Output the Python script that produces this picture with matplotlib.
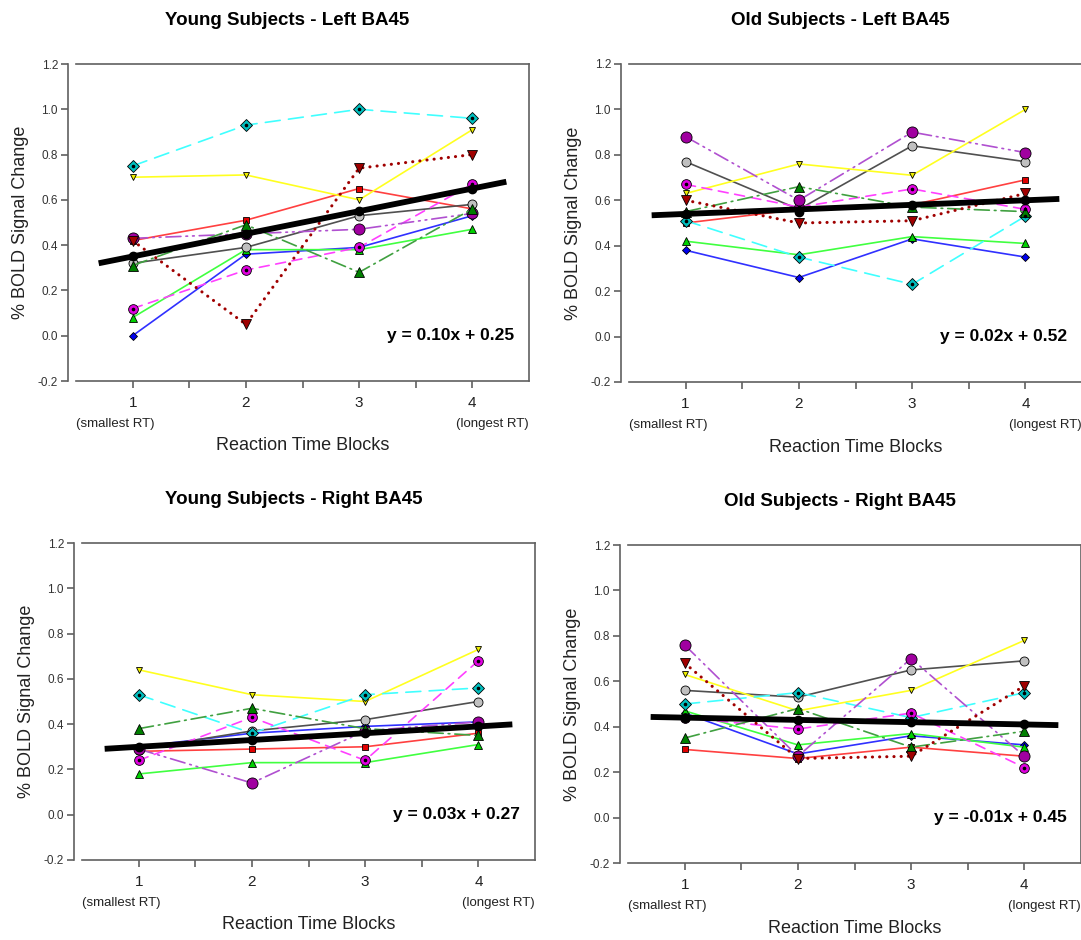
import matplotlib.pyplot as plt
import numpy as np

plt.rcParams['font.family'] = ['Liberation Sans', 'DejaVu Sans']

blocks = [1, 2, 3, 4]

# subject order: blue, lime, red, gray, yellow, cyan, magenta, purple, dark green, dark red
young_left = [
    [0.00, 0.36, 0.39, 0.53],
    [0.08, 0.38, 0.38, 0.47],
    [0.42, 0.51, 0.65, 0.56],
    [0.32, 0.39, 0.53, 0.58],
    [0.70, 0.71, 0.60, 0.91],
    [0.75, 0.93, 1.00, 0.96],
    [0.12, 0.29, 0.39, 0.67],
    [0.43, 0.45, 0.47, 0.54],
    [0.31, 0.49, 0.28, 0.56],
    [0.42, 0.05, 0.74, 0.80],
]
young_left_mean = [0.35, 0.45, 0.55, 0.65]

old_left = [
    [0.38, 0.26, 0.43, 0.35],
    [0.42, 0.36, 0.44, 0.41],
    [0.50, 0.56, 0.58, 0.69],
    [0.77, 0.56, 0.84, 0.77],
    [0.63, 0.76, 0.71, 1.00],
    [0.51, 0.35, 0.23, 0.53],
    [0.67, 0.57, 0.65, 0.56],
    [0.88, 0.60, 0.90, 0.81],
    [0.55, 0.66, 0.57, 0.55],
    [0.60, 0.50, 0.51, 0.63],
]
old_left_mean = [0.54, 0.55, 0.58, 0.60]

young_right = [
    [0.30, 0.36, 0.39, 0.41],
    [0.18, 0.23, 0.23, 0.31],
    [0.28, 0.29, 0.30, 0.36],
    [0.29, 0.37, 0.42, 0.50],
    [0.64, 0.53, 0.50, 0.73],
    [0.53, 0.36, 0.53, 0.56],
    [0.24, 0.43, 0.24, 0.68],
    [0.29, 0.14, 0.37, 0.41],
    [0.38, 0.47, 0.38, 0.35],
    None,
]
young_right_mean = [0.30, 0.33, 0.36, 0.39]

old_right = [
    [0.46, 0.28, 0.36, 0.32],
    [0.47, 0.32, 0.37, 0.31],
    [0.30, 0.26, 0.31, 0.27],
    [0.56, 0.53, 0.65, 0.69],
    [0.63, 0.47, 0.56, 0.78],
    [0.50, 0.55, 0.44, 0.55],
    [0.44, 0.39, 0.46, 0.22],
    [0.76, 0.27, 0.70, 0.27],
    [0.35, 0.48, 0.31, 0.38],
    [0.68, 0.26, 0.27, 0.58],
]
old_right_mean = [0.44, 0.43, 0.42, 0.41]

titles = ['Young Subjects - Left BA45', 'Old Subjects - Left BA45',
          'Young Subjects - Right BA45', 'Old Subjects - Right BA45']
slopes = [0.10, 0.02, 0.03, -0.01]
intercepts = [0.25, 0.52, 0.27, 0.45]

# line colour, marker, marker fill, marker size, dash pattern, centre dot
styles = [
    ('#3030ff', 'D', '#0000ee', 4.0, '-', False),
    ('#40ff40', '^', '#00d000', 6.0, '-', False),
    ('#ff4040', 's', '#e00000', 4.5, '-', False),
    ('#505050', 'o', '#c0c0c0', 6.5, '-', False),
    ('#ffff20', 'v', '#f0f000', 5.0, '-', False),
    ('#40ffff', 'D', '#00c0c0', 6.5, (0, (9, 5)), True),
    ('#ff40ff', 'o', '#e000e0', 7.0, (0, (6, 4)), True),
    ('#b050d0', 'o', '#a000a0', 8.0, (0, (9, 3, 1, 3, 1, 3)), False),
    ('#40a040', '^', '#008000', 6.5, (0, (9, 3, 1, 3)), False),
    ('#a00000', 'v', '#a00000', 7.0, (0, (0.05, 2.3)), False),
]

panels = [
    (young_left, young_left_mean, [76, 64, 529, 381]),
    (old_left, old_left_mean, [629, 64, 1082, 382]),
    (young_right, young_right_mean, [82, 543, 535, 860]),
    (old_right, old_right_mean, [628, 545, 1081, 863]),
]

W, H = 1081, 940
fig = plt.figure(figsize=(W / 100, H / 100), dpi=100)

for i, (data, mean, box) in enumerate(panels):
    l, t, r, b = box
    ax = fig.add_axes([l / W, 1 - b / H, (r - l) / W, (b - t) / H])

    for vals, st in zip(data, styles):
        if vals is None:
            continue
        col, mk, fc, ms, ls, dot = st
        lw = 2.2 if col == '#a00000' else 1.2
        ax.plot(blocks, vals, color=col, lw=lw, ls=ls, dash_capstyle='round',
                marker=mk, markerfacecolor=fc, markeredgecolor='black',
                markeredgewidth=0.6, markersize=ms, zorder=3)
        if dot:
            ax.plot(blocks, vals, ls='none', marker='o', markersize=1.6,
                    color='black', zorder=4)

    xx = np.array([0.7, 4.3])
    ax.plot(xx, slopes[i] * xx + intercepts[i], color='black', lw=4.2,
            solid_capstyle='butt', zorder=5)
    ax.plot(blocks, mean, ls='none', marker='o', markersize=6,
            color='black', zorder=6)

    ax.set_xlim(0.5, 4.5)
    ax.set_ylim(-0.2, 1.2)
    ax.set_xticks(blocks)
    ax.set_xticks([1.5, 2.5, 3.5], minor=True)
    ax.set_yticks(np.arange(-0.2, 1.21, 0.2))
    ax.set_yticklabels(['%.1f' % v for v in np.arange(-0.2, 1.21, 0.2)])
    ax.tick_params(axis='x', which='both', length=5, width=1.2,
                   color='#606060', labelsize=11, pad=6, labelcolor='#222222')
    ax.tick_params(axis='y', length=5, width=1.2, color='#606060',
                   labelsize=8.5, pad=2, labelcolor='#333333')
    for sp in ax.spines.values():
        sp.set_color('#606060')
        sp.set_linewidth(1.2)
    ax.spines['left'].set_position(('outward', 6))

    ax.text(0, -0.135, '(smallest RT)', transform=ax.transAxes,
            ha='left', va='center', fontsize=9.5, color='#222222')
    ax.text(1.0, -0.135, '(longest RT)', transform=ax.transAxes,
            ha='right', va='center', fontsize=9.5, color='#222222')
    ax.text(0.5, -0.205, 'Reaction Time Blocks', transform=ax.transAxes,
            ha='center', va='center', fontsize=13, color='#222222')
    ax.text(-0.123, 0.5, '% BOLD Signal Change', transform=ax.transAxes,
            ha='center', va='center', rotation=90, fontsize=13,
            color='#222222')
    ax.text(0.467, 1.137, titles[i], transform=ax.transAxes, ha='center',
            va='center', fontsize=13.5, fontweight='bold')

    eq = 'y = %.2fx + %.2f' % (slopes[i], intercepts[i])
    ax.text(4.37, 0.0, eq, ha='right', va='center', fontsize=12.5,
            fontweight='bold')

fig.savefig('out.png', dpi=100)
